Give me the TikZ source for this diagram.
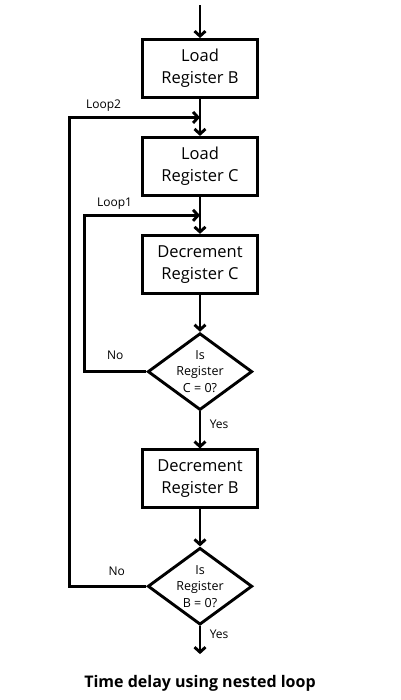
\documentclass[tikz,border=0pt]{standalone}
\usepackage{fontspec}
\setmainfont{Open Sans}
\usetikzlibrary{shapes.geometric, calc, arrows.meta, positioning}

\begin{document}
\begin{tikzpicture}[>={Straight Barb[length=5pt, width=11pt]}, line width=2.9pt,
    node distance=37pt,
    stepbox/.style={draw, rectangle, minimum width=115pt, minimum height=58pt, align=center, font=\fontsize{16.5}{22}\selectfont},
    testbox/.style={draw, diamond, aspect=1.36, inner sep=0pt, minimum width=99pt, minimum height=72pt, align=center, font=\fontsize{12.5}{16.5}\selectfont},
    tag/.style={font=\fontsize{12}{14}\selectfont}]
\useasboundingbox (0,0) rectangle (400pt,-700pt);

\node[stepbox] (loadB) at (200pt,-68.5pt) {Load\\Register B};
\node[stepbox, below=of loadB] (loadC) {Load\\Register C};
\node[stepbox, below=of loadC] (decC) {Decrement\\Register C};
\node[testbox, below=of decC] (isC) {Is\\Register\\C = 0?};
\node[stepbox, below=of isC] (decB) {Decrement\\Register B};
\node[testbox, below=of decB] (isB) {Is\\Register\\B = 0?};

\coordinate (start) at ([yshift=33pt] loadB.north);
\coordinate (finish) at ([yshift=-28pt] isB.south);
\coordinate (loop2) at ($(loadB.south)!0.5!(loadC.north)$);
\coordinate (loop1) at ($(loadC.south)!0.5!(decC.north)$);

\draw[->] (start) -- (loadB);
\draw[->] (loadB) -- (loadC);
\draw[->] (loadC) -- (decC);
\draw[->] (decC) -- (isC);
\draw[->] (isC) -- (decB) node[pos=0.35, right=5pt, tag] {Yes};
\draw[->] (decB) -- (isB);
\draw[->] (isB) -- (finish) node[pos=0.3, right=5pt, tag] {Yes};

% inner loop
\draw[->] (isC.west) -- ++(-62pt,0) coordinate (c1) |- (loop1);
\node[tag, above=7pt] at ($(isC.west)!0.5!(c1)$) {No};
\node[tag, above right=1pt and 8pt] at (c1 |- loop1) {Loop1};

% outer loop
\draw[->] (isB.west) -- ++(-77pt,0) coordinate (c2) |- (loop2);
\node[tag, above=6pt, xshift=9pt] at ($(isB.west)!0.5!(c2)$) {No};
\node[tag, above right=1pt and 12pt] at (c2 |- loop2) {Loop2};

\node[font=\fontsize{16}{18}\selectfont\bfseries] (title) at (200pt,-683pt) {Time delay using nested loop};
\end{tikzpicture}
\end{document}
